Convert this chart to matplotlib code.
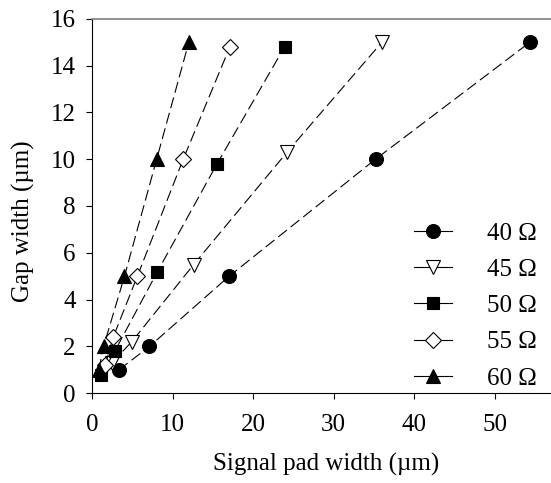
import matplotlib
matplotlib.use('Agg')
import matplotlib.pyplot as plt
from matplotlib.lines import Line2D

plt.rcParams['font.family'] = ['Liberation Serif', 'DejaVu Serif']
plt.rcParams['lines.scale_dashes'] = False

# impedance series: signal pad width (um) vs gap width (um)
labels = ['40 Ω', '45 Ω', '50 Ω', '55 Ω', '60 Ω']
x40 = [3.3, 7.1, 17.0, 35.2, 54.4]
y40 = [1.0, 2.0, 5.0, 10.0, 15.0]
x45 = [2.4, 4.9, 12.6, 24.2, 36.0]
y45 = [1.3, 2.2, 5.5, 10.3, 15.0]
x50 = [1.1, 2.8, 8.1, 15.5, 23.9]
y50 = [0.8, 1.8, 5.2, 9.8, 14.8]
x55 = [1.6, 2.6, 5.6, 11.3, 17.1]
y55 = [1.2, 2.4, 5.0, 10.0, 14.8]
x60 = [0.8, 1.4, 4.0, 8.0, 12.0]
y60 = [1.0, 2.0, 5.0, 10.0, 15.0]

series = [(x40, y40), (x45, y45), (x50, y50), (x55, y55), (x60, y60)]
markers = ['o', 'v', 's', 'D', '^']
faces = ['black', 'white', 'black', 'white', 'black']
sizes = [10, 10, 9, 8.5, 10]

fig = plt.figure(figsize=(5.51, 4.83), dpi=100)
ax = fig.add_axes([0.1675, 0.1857, 0.8325, 0.7756])

handles = []
for (xs, ys), m, fc, ms, lab in zip(series, markers, faces, sizes, labels):
    ax.plot(xs, ys, color='black', lw=0.8, dashes=(8, 3.5),
            marker=m, markerfacecolor=fc, markeredgecolor='black',
            markeredgewidth=0.8, markersize=ms)
    handles.append(Line2D([], [], color='black', lw=0.8, marker=m,
                          markerfacecolor=fc, markeredgecolor='black',
                          markeredgewidth=0.8, markersize=ms, label=lab))

ax.set_xlim(0, 57)
ax.set_ylim(0, 16)
ax.set_xticks([0, 10, 20, 30, 40, 50])
ax.set_yticks(range(0, 17, 2))
ax.tick_params(direction='out', length=4, width=0.8, labelsize=18)
ax.tick_params(axis='x', pad=11)
ax.tick_params(axis='y', pad=8)
ax.spines['right'].set_visible(False)
ax.spines['top'].set_color('#808080')
ax.spines['top'].set_linewidth(1.2)
ax.spines['left'].set_linewidth(0.8)
ax.spines['bottom'].set_linewidth(0.8)

ax.set_xlabel('Signal pad width (µm)', fontsize=18)
ax.set_ylabel('Gap width (µm)', fontsize=18)
ax.xaxis.label.set_va('center')
ax.yaxis.label.set_va('center')
ax.xaxis.set_label_coords(0.51, -0.19)
ax.yaxis.set_label_coords(-0.151, 0.46)

ax.legend(handles=handles, loc='lower right', bbox_to_anchor=(1.007, -0.037),
          frameon=False, fontsize=18, handlelength=1.5, handletextpad=1.4,
          labelspacing=0.55, borderaxespad=0.3)

fig.savefig('out.png', dpi=100)
